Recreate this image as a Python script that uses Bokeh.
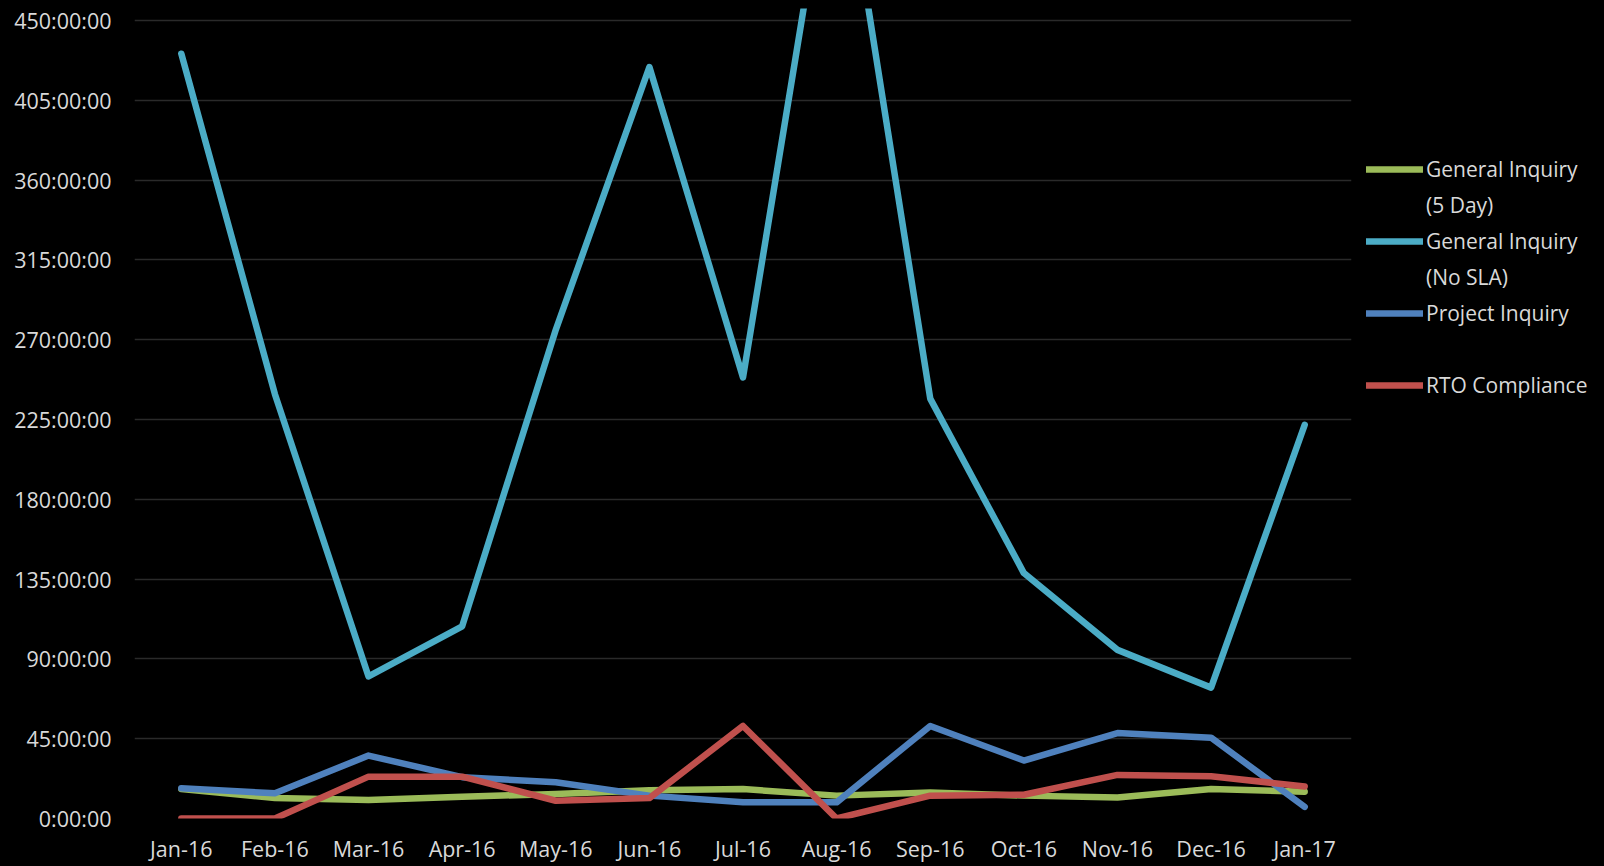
from bokeh.plotting import figure
from bokeh.models import (FactorRange, Range1d, FixedTicker, CustomJSTickFormatter,
                          Legend, LegendItem)
from bokeh.embed import file_html
from bokeh.resources import INLINE

months = ["Jan-16", "Feb-16", "Mar-16", "Apr-16", "May-16", "Jun-16", "Jul-16",
          "Aug-16", "Sep-16", "Oct-16", "Nov-16", "Dec-16", "Jan-17"]
# values in hours
general_5day = [16.6, 11.5, 10.4, 12.3, 13.8, 16.0, 16.6, 12.9, 14.7, 12.9, 11.9, 16.6, 15.1]
general_nosla = [431.3, 239.3, 80.1, 108.4, 275.6, 423.8, 248.7, 570.0, 236.8, 138.4, 95.1, 73.8, 222.0]
project_inquiry = [17.0, 14.2, 35.5, 23.3, 20.4, 12.9, 9.1, 9.1, 52.2, 32.7, 48.2, 45.6, 6.6]
rto_compliance = [0.0, 0.0, 23.6, 23.6, 10.0, 11.5, 52.2, 0.0, 12.9, 13.4, 24.6, 23.8, 18.1]
y_ticks = [0, 45, 90, 135, 180, 225, 270, 315, 360, 405, 450]

# legend text: first line beside the swatch, optional second line below it
legend_first = ["General Inquiry", "General Inquiry", "Project Inquiry", "RTO Compliance"]
legend_second = ["(5 Day)", "(No SLA)", " ", None]
colors = ["#9BBB59", "#4BACC6", "#4F81BD", "#C0504D"]

FONT = "Open Sans"
TXT = "#D9D9D9"

p = figure(x_range=FactorRange(*months), y_range=Range1d(0, 456.8),
           frame_width=1217, frame_height=810,
           min_border_left=134, min_border_right=230, min_border_top=8, min_border_bottom=40,
           output_backend="svg", toolbar_location=None,
           background_fill_color="black", border_fill_color="black")
p.outline_line_color = None

p.xgrid.grid_line_color = None
p.ygrid.grid_line_color = "#2A2A2A"
p.ygrid.grid_line_width = 1.5

p.yaxis.ticker = FixedTicker(ticks=y_ticks)
p.yaxis.formatter = CustomJSTickFormatter(code="return tick.toFixed(0) + ':00:00';")
for ax in (p.xaxis[0], p.yaxis[0]):
    ax.axis_line_color = None
    ax.major_tick_line_color = None
    ax.minor_tick_line_color = None
    ax.major_tick_out = 0
    ax.major_tick_in = 0
    ax.major_label_text_color = TXT
    ax.major_label_text_font = FONT
    ax.major_label_text_font_size = "21.5px"
p.yaxis.major_label_standoff = 23
p.xaxis.major_label_standoff = 15

# invisible renderer used for text-only legend rows
blank = p.line([], [], line_alpha=0)

data = [general_5day, general_nosla, project_inquiry, rto_compliance]
items = []
for vals, c, first, second in zip(data, colors, legend_first, legend_second):
    r = p.line(months, vals, line_color=c, line_width=6.5, line_join="round", line_cap="round")
    items.append(LegendItem(label=first, renderers=[r]))
    if second is not None:
        items.append(LegendItem(label=second, renderers=[blank]))

lg = Legend(items=items, location=(15, 419),
            padding=0, margin=0, spacing=8,
            glyph_width=57, glyph_height=28, label_height=28,
            label_standoff=3,
            label_text_font=FONT, label_text_font_size="21px",
            label_text_color=TXT,
            background_fill_alpha=0, border_line_alpha=0)
p.add_layout(lg, "right")

html = file_html(p, INLINE)
html = html.replace("</head>", "<style>html,body{background:#000;}</style></head>", 1)
open("out.html", "w").write(html)
